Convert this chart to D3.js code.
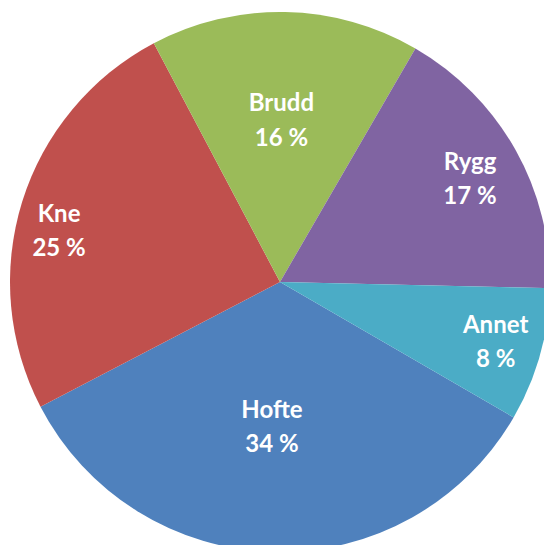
<!DOCTYPE html>
<html>
<head>
<meta charset="utf-8">
<script src="https://cdn.jsdelivr.net/npm/d3@7"></script>
<style>
  html, body { margin: 0; padding: 0; background: #fff; overflow: hidden; }
  svg { display: block; }
</style>
</head>
<body>
<svg id="chart" width="544" height="545"></svg>
<script>
// Data (clockwise order as drawn)
const categories = ["Hofte", "Kne", "Brudd", "Rygg", "Annet"];
const values = [34.0, 24.9, 16.1, 17.0, 8.0];
const percentLabels = ["34 %", "25 %", "16 %", "17 %", "8 %"];
const colors = ["#4F81BD", "#C0504D", "#9BBB59", "#8064A2", "#4BACC6"];

// Layout
const width = 544, height = 545;
const cx = 280, cy = 282, radius = 270;
const startDeg = 120.1;
const labelRadiusFrac = [0.567, 0.834, 0.570, 0.787, 0.837];
const labelAngleOffsetDeg = [1.7, -6.2, -0.6, 2.7, 1.7];

const svg = d3.select("#chart");
const g = svg.append("g").attr("transform", `translate(${cx},${cy})`);

const pie = d3.pie()
  .sort(null)
  .value(d => d.value)
  .startAngle(startDeg * Math.PI / 180)
  .endAngle(startDeg * Math.PI / 180 + 2 * Math.PI);

const data = categories.map((c, i) => ({ name: c, value: values[i], pct: percentLabels[i], color: colors[i], i }));
const arcs = pie(data);

const arc = d3.arc().innerRadius(0).outerRadius(radius);

g.selectAll("path.slice")
  .data(arcs)
  .join("path")
  .attr("class", "slice")
  .attr("d", arc)
  .attr("fill", d => d.data.color)
  .attr("stroke", "none");

const labels = g.selectAll("g.label")
  .data(arcs)
  .join("g")
  .attr("class", "label")
  .attr("transform", d => {
    const mid = (d.startAngle + d.endAngle) / 2 + labelAngleOffsetDeg[d.data.i] * Math.PI / 180;
    const r = radius * labelRadiusFrac[d.data.i];
    return `translate(${r * Math.sin(mid)},${-r * Math.cos(mid)})`;
  });

labels.append("text")
  .attr("text-anchor", "middle")
  .attr("y", -17)
  .attr("fill", "#ffffff")
  .style("font-family", "Lato, 'Open Sans', sans-serif")
  .style("font-weight", "700")
  .style("font-size", "24px")
  .text(d => d.data.name);

labels.append("text")
  .attr("text-anchor", "middle")
  .attr("y", 17.5)
  .attr("fill", "#ffffff")
  .style("font-family", "Lato, 'Open Sans', sans-serif")
  .style("font-weight", "700")
  .style("font-size", "24px")
  .text(d => d.data.pct);
</script>
</body>
</html>
